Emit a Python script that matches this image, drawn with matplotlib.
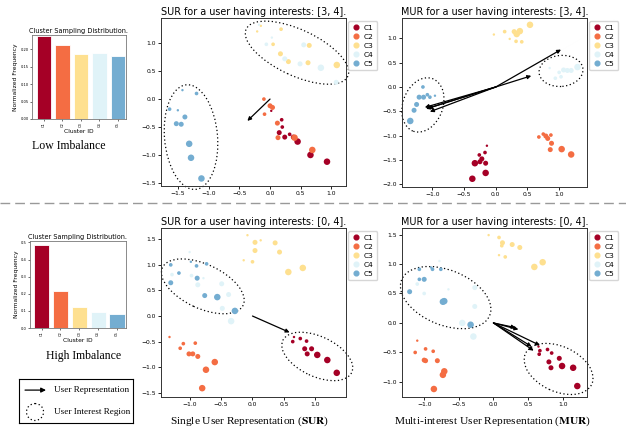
import matplotlib
matplotlib.use('Agg')
import matplotlib.pyplot as plt
from matplotlib.patches import Ellipse
from matplotlib.lines import Line2D
from matplotlib.transforms import ScaledTranslation

plt.rcParams['mathtext.fontset'] = 'stix'

clusters = ['C1', 'C2', 'C3', 'C4', 'C5']
colors = ['#a50026', '#f46d43', '#fee090', '#e0f3f8', '#74add1']

# cluster sampling distributions
freq_low = [0.238, 0.211, 0.186, 0.189, 0.182]
freq_high = [0.486, 0.215, 0.122, 0.095, 0.079]

# points as (x, y, weight) per cluster
sur_lo_c1 = [(0.02, -0.21, 1), (0.19, -0.37, 2), (0.20, -0.50, 2), (0.15, -0.60, 3), (0.24, -0.68, 3),
             (0.32, -0.63, 2), (0.38, -0.68, 3), (0.45, -0.76, 4), (0.66, -1.00, 4), (0.93, -1.12, 4)]
sur_lo_c2 = [(-0.10, 0.00, 2), (0.00, -0.12, 3), (0.04, -0.15, 3), (-0.09, -0.27, 2), (0.12, -0.43, 3),
             (0.13, -0.69, 3), (0.40, -0.69, 4), (0.69, -0.91, 4)]
sur_lo_c3 = [(-0.15, 1.31, 1), (-0.21, 1.21, 1), (0.18, 1.25, 2), (0.05, 0.98, 2), (0.17, 0.81, 3),
             (0.30, 0.67, 3), (0.64, 0.96, 3), (0.62, 0.65, 3), (1.09, 0.61, 4)]
sur_lo_c4 = [(-0.18, 1.33, 1), (0.03, 1.10, 1), (-0.06, 0.98, 2), (0.24, 0.72, 3), (0.49, 0.63, 3),
             (0.55, 0.97, 3), (0.83, 0.56, 4), (1.08, 0.30, 3)]
sur_lo_c5 = [(-1.64, -0.18, 2), (-1.505, -0.20, 1), (-1.43, 0.16, 1), (-1.20, 0.10, 2), (-1.39, -0.32, 3),
             (-1.53, -0.44, 3), (-1.45, -0.45, 3), (-1.32, -0.80, 4), (-1.29, -1.05, 4), (-1.12, -1.42, 4)]
sur_lo_arrows = [(-0.37, -0.39)]
sur_lo_regions = [(0.44, 0.83, 112, 46, -25), (-1.29, -0.68, 53, 105, 5)]

mur_lo_c1 = [(-0.14, -1.21, 1), (-0.17, -1.35, 2), (-0.26, -1.40, 2), (-0.22, -1.48, 3), (-0.25, -1.54, 3),
             (-0.16, -1.57, 3), (-0.33, -1.57, 4), (-0.16, -1.77, 4), (-0.37, -1.89, 4)]
mur_lo_c2 = [(0.68, -1.03, 2), (0.75, -0.97, 2), (0.79, -1.01, 3), (0.82, -1.06, 3), (0.87, -0.99, 2),
             (0.88, -1.16, 3), (0.86, -1.29, 3), (1.04, -1.28, 4), (1.19, -1.39, 4)]
mur_lo_c3 = [(-0.03, 1.08, 1), (0.14, 1.14, 2), (0.22, 0.99, 1), (0.29, 1.14, 3), (0.33, 1.09, 4),
             (0.38, 1.15, 4), (0.32, 0.94, 2), (0.41, 0.93, 2), (0.54, 1.28, 4)]
mur_lo_c4 = [(0.85, 0.39, 1), (1.00, 0.30, 2), (1.07, 0.35, 3), (1.13, 0.34, 3), (1.19, 0.34, 3),
             (1.29, 0.41, 4), (0.94, 0.18, 2), (1.03, 0.21, 2)]
mur_lo_c5 = [(-1.15, 0.00, 2), (-1.21, -0.21, 3), (-1.14, -0.21, 3), (-1.08, -0.16, 2), (-1.04, -0.21, 2),
             (-0.96, -0.18, 1), (-1.25, -0.36, 3), (-1.29, -0.48, 3), (-1.35, -0.70, 4)]
mur_lo_arrows = [(1.03, 0.77), (0.56, 0.23), (-1.10, -0.45), (-1.12, -0.42), (-1.04, -0.51), (-1.07, -0.44)]
mur_lo_regions = [(1.03, 0.33, 44, 31, 5), (-1.15, -0.37, 40, 56, -20)]

sur_hi_c1 = [(0.66, -0.41, 1), (0.64, -0.50, 2), (0.76, -0.44, 2), (0.86, -0.49, 2), (0.83, -0.64, 3),
             (0.94, -0.64, 3), (0.87, -0.74, 3), (1.03, -0.76, 4), (1.19, -0.86, 4), (1.34, -1.11, 4)]
sur_hi_c2 = [(-1.32, -0.41, 1), (-1.10, -0.54, 2), (-1.15, -0.63, 2), (-0.91, -0.53, 2), (-1.01, -0.74, 3),
             (-0.95, -0.74, 3), (-0.87, -0.79, 3), (-0.60, -0.90, 4), (-0.74, -1.05, 4), (-0.80, -1.41, 4)]
sur_hi_c3 = [(-0.08, 1.58, 1), (0.04, 1.44, 3), (0.13, 1.48, 1), (0.04, 1.28, 3), (-0.14, 1.09, 1),
             (0.00, 1.06, 2), (0.36, 1.43, 3), (0.43, 1.25, 3), (0.57, 0.86, 4), (0.80, 0.94, 4)]
sur_hi_c4 = [(-1.00, 1.25, 1), (-1.28, 0.81, 2), (-0.97, 0.79, 2), (-0.87, 0.61, 3), (-0.78, 0.74, 1),
             (-0.49, 0.63, 3), (-0.38, 0.42, 3), (-0.48, 0.15, 3), (-0.34, -0.10, 4)]
sur_hi_c5 = [(-1.30, 1.00, 2), (-1.17, 0.84, 2), (-0.98, 1.06, 1), (-0.89, 0.98, 2), (-0.73, 1.02, 2),
             (-1.30, 0.65, 3), (-0.88, 0.74, 3), (-0.76, 0.40, 3), (-0.56, 0.37, 4), (-0.28, 0.10, 4)]
sur_hi_arrows = [(0.59, -0.32)]
sur_hi_regions = [(-0.79, 0.58, 89, 44, -25), (1.03, -0.79, 76, 40, -25)]

mur_hi_c1 = [(0.65, -0.40, 1), (0.67, -0.47, 2), (0.66, -0.53, 2), (0.78, -0.45, 2), (0.84, -0.51, 2),
             (0.80, -0.66, 3), (0.95, -0.60, 3), (0.83, -0.76, 3), (0.99, -0.73, 4), (1.15, -0.76, 4),
             (1.21, -1.07, 4)]
mur_hi_c2 = [(-1.10, -0.30, 1), (-1.13, -0.50, 2), (-0.98, -0.44, 2), (-0.87, -0.48, 2), (-1.00, -0.63, 3),
             (-0.98, -0.64, 3), (-0.81, -0.64, 3), (-0.71, -0.82, 4), (-0.73, -0.88, 4), (-0.86, -1.12, 4)]
mur_hi_c3 = [(-0.07, 1.49, 1), (0.08, 1.45, 2), (0.13, 1.36, 3), (0.12, 1.31, 2), (0.27, 1.33, 3),
             (0.38, 1.28, 3), (0.08, 1.15, 1), (0.17, 1.12, 2), (0.59, 0.95, 4), (0.71, 1.03, 4)]
mur_hi_c4 = [(-0.78, 1.05, 1), (-1.10, 0.66, 2), (-1.00, 0.50, 2), (-0.65, 0.57, 1), (-0.27, 0.60, 3),
             (-0.27, 0.28, 3), (-0.45, 0.00, 4), (-0.29, -0.23, 4)]
mur_hi_c5 = [(-1.07, 0.91, 2), (-0.90, 0.94, 1), (-0.88, 0.91, 2), (-0.76, 0.91, 2), (-1.07, 0.74, 2),
             (-1.00, 0.74, 3), (-1.21, 0.53, 3), (-0.73, 0.36, 4), (-0.71, 0.37, 4), (-0.33, -0.03, 4)]
mur_hi_arrows = [(0.36, -0.11), (0.67, -0.38), (0.58, -0.47), (0.55, -0.40), (0.32, -0.08)]
mur_hi_regions = [(-0.69, 0.43, 95, 55, -22), (0.94, -0.78, 73, 45, -25)]

weight_area = {1: 3, 2: 7, 3: 13, 4: 22}

fig = plt.figure(figsize=(6.26, 4.30), dpi=100)


def bar_panel(rect, vals, ylim, xlim):
    ax = fig.add_axes(rect)
    ax.bar(range(5), vals, width=0.8, color=colors, edgecolor='white', linewidth=0.6)
    ax.set_xlim(*xlim)
    ax.set_ylim(*ylim)
    ax.set_xticks(range(5))
    ax.set_xticklabels(clusters, rotation=90)
    ax.tick_params(labelsize=2.6, length=1.5, width=0.4, pad=1)
    ax.set_ylabel('Normalized Frequency', fontsize=4.3, labelpad=1.5)
    ax.set_xlabel('Cluster ID', fontsize=4.3, labelpad=1)
    ax.set_title('Cluster Sampling Distribution.', fontsize=4.7, pad=1.5)
    for sp in ax.spines.values():
        sp.set_color('#777777')
        sp.set_linewidth(0.6)
    return ax


def scatter_panel(rect, pts, arrows, regions, title, xlim, ylim, yticks):
    ax = fig.add_axes(rect)
    ax.set_xlim(*xlim)
    ax.set_ylim(*ylim)
    for name, col, p in zip(clusters, colors, pts):
        ax.scatter([q[0] for q in p], [q[1] for q in p], s=[weight_area[q[2]] for q in p],
                   c=col, linewidths=0, zorder=2)
    for ex, ey in arrows:
        ax.annotate('', xy=(ex, ey), xytext=(0, 0),
                    arrowprops=dict(arrowstyle='-|>', color='black', lw=0.9,
                                    shrinkA=0, shrinkB=0, mutation_scale=5.5), zorder=4)
    for cx, cy, w, h, a in regions:
        e = Ellipse((0, 0), w / 100, h / 100, angle=a, fill=False, ec='black', lw=0.9,
                    ls=(0, (1, 2)), clip_on=False,
                    transform=fig.dpi_scale_trans + ScaledTranslation(cx, cy, ax.transData))
        ax.add_patch(e)
    ax.set_xlim(*xlim)
    ax.set_ylim(*ylim)
    ax.set_xticks([-1.0, -0.5, 0.0, 0.5, 1.0] if xlim[0] > -1.5 else [-1.5, -1.0, -0.5, 0.0, 0.5, 1.0])
    ax.set_yticks(yticks)
    ax.tick_params(labelsize=4.3, length=2, width=0.6, pad=1.5)
    ax.set_title(title, fontsize=6.9, pad=2.5)
    for sp in ax.spines.values():
        sp.set_color('#333333')
        sp.set_linewidth(0.7)
    handles = [Line2D([], [], marker='o', ls='', color=c, markersize=3.4) for c in colors]
    ax.legend(handles, clusters, loc='upper left', bbox_to_anchor=(1.012, 0.98), borderaxespad=0,
              fontsize=5.4, handletextpad=0.35, labelspacing=0.36, handlelength=1.3, borderpad=0.45)
    return ax


bar_panel([0.0511, 0.7233, 0.150, 0.1953], freq_low, (0, 0.241), (-0.65, 4.43))
bar_panel([0.0479, 0.2372, 0.1534, 0.2023], freq_high, (0, 0.508), (-0.62, 4.48))

scatter_panel([0.2572, 0.5674, 0.2955, 0.3907],
              [sur_lo_c1, sur_lo_c2, sur_lo_c3, sur_lo_c4, sur_lo_c5], sur_lo_arrows, sur_lo_regions,
              'SUR for a user having interests: [3, 4].', (-1.78, 1.24), (-1.555, 1.45),
              [-1.5, -1.0, -0.5, 0.0, 0.5, 1.0])
scatter_panel([0.6422, 0.5651, 0.2955, 0.393],
              [mur_lo_c1, mur_lo_c2, mur_lo_c3, mur_lo_c4, mur_lo_c5], mur_lo_arrows, mur_lo_regions,
              'MUR for a user having interests: [3, 4].', (-1.48, 1.44), (-2.06, 1.42),
              [-2.0, -1.5, -1.0, -0.5, 0.0, 0.5, 1.0])
scatter_panel([0.2572, 0.0767, 0.2955, 0.393],
              [sur_hi_c1, sur_hi_c2, sur_hi_c3, sur_hi_c4, sur_hi_c5], sur_hi_arrows, sur_hi_regions,
              'SUR for a user having interests: [0, 4].', (-1.455, 1.487), (-1.583, 1.72),
              [-1.5, -1.0, -0.5, 0.0, 0.5, 1.0, 1.5])
scatter_panel([0.6422, 0.0767, 0.2955, 0.393],
              [mur_hi_c1, mur_hi_c2, mur_hi_c3, mur_hi_c4, mur_hi_c5], mur_hi_arrows, mur_hi_regions,
              'MUR for a user having interests: [0, 4].', (-1.32, 1.35), (-1.256, 1.61),
              [-1.0, -0.5, 0.0, 0.5, 1.0, 1.5])

serif = 'Liberation Serif'
fig.text(69 / 626, 1 - 146 / 430, 'Low Imbalance', ha='center', va='center', family=serif, fontsize=8.5)
fig.text(84 / 626, 1 - 356 / 430, 'High Imbalance', ha='center', va='center', family=serif, fontsize=8.5)
fig.text(250 / 626, 1 - 421 / 430, r'Single User Representation ($\mathbf{SUR}$)',
         ha='center', va='center', family=serif, fontsize=8.2)
fig.text(492 / 626, 1 - 421 / 430, r'Multi-interest User Representation ($\mathbf{MUR}$)',
         ha='center', va='center', family=serif, fontsize=8.2)

# separator between the two settings
fig.add_artist(Line2D([0.0, 1.0], [0.528, 0.528], transform=fig.transFigure,
                      color='#999999', lw=1.0, ls=(0, (7, 3.6))))

# key for arrows and dotted regions
lg = fig.add_axes([0.0304, 0.0163, 0.182, 0.102])
lg.set_xlim(0, 114)
lg.set_ylim(44, 0)
lg.set_xticks([])
lg.set_yticks([])
for sp in lg.spines.values():
    sp.set_color('black')
    sp.set_linewidth(0.8)
lg.annotate('', xy=(27, 11), xytext=(6, 11),
            arrowprops=dict(arrowstyle='-|>', color='black', lw=0.9, shrinkA=0, shrinkB=0, mutation_scale=7))
lg.add_patch(Ellipse((16, 33), 17, 17, fill=False, ec='black', lw=0.9, ls=(0, (1, 2))))
lg.text(35, 11, 'User Representation', va='center', family=serif, fontsize=6.6)
lg.text(35, 33, 'User Interest Region', va='center', family=serif, fontsize=6.6)

fig.savefig('out.png', dpi=100)
